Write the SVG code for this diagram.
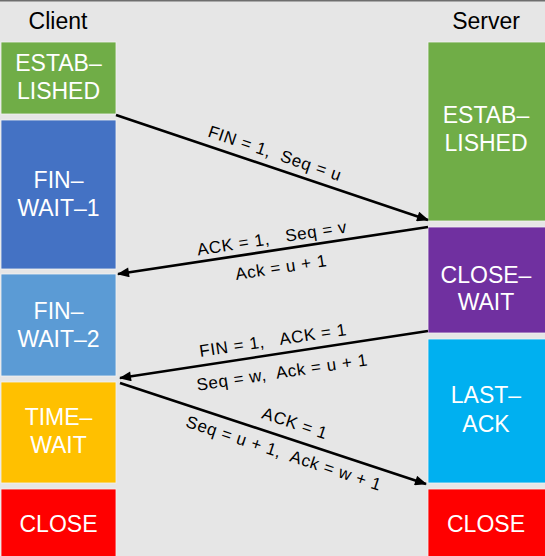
<svg xmlns="http://www.w3.org/2000/svg" width="545" height="556" viewBox="0 0 545 556">
<defs>
<style>
.t{font-family:"Liberation Sans","Noto Sans",Arial,sans-serif;}
.title{font-size:23px;fill:#000;text-anchor:middle;}
.st{font-size:23px;fill:#fff;text-anchor:middle;}
.lbl{font-size:17px;fill:#000;text-anchor:middle;white-space:pre;letter-spacing:0.6px;}
.box{stroke:#f2f2f2;stroke-width:0.8;}
.conn{stroke:#000;stroke-width:2.6;fill:none;marker-end:url(#ah);}
</style>
<marker id="ah" viewBox="0 0 12 10" refX="11" refY="5" markerWidth="13" markerHeight="10" markerUnits="userSpaceOnUse" orient="auto">
<path d="M0,0 L12,5 L0,10 Z" fill="#000"/>
</marker>
</defs>
<rect x="0" y="0" width="545" height="556" fill="#e6e6e6"/>
<rect x="0" y="0" width="545" height="1.5" fill="#6e6e6e"/>
<text class="t title" x="58" y="29">Client</text>
<text class="t title" x="486" y="29">Server</text>

<g id="c-established"><rect class="box" x="1" y="42" width="115" height="72" fill="#70ad47"/><text class="t st" x="58.5" y="71">ESTAB–</text><text class="t st" x="58.5" y="99">LISHED</text></g>
<g id="c-finwait1"><rect class="box" x="1" y="120" width="115" height="149" fill="#4472c4"/><text class="t st" x="58.5" y="188">FIN–</text><text class="t st" x="58.5" y="216">WAIT–1</text></g>
<g id="c-finwait2"><rect class="box" x="1" y="274" width="115" height="102" fill="#5b9bd5"/><text class="t st" x="58.5" y="319">FIN–</text><text class="t st" x="58.5" y="347">WAIT–2</text></g>
<g id="c-timewait"><rect class="box" x="1" y="382" width="115" height="101" fill="#ffc000"/><text class="t st" x="58.5" y="425">TIME–</text><text class="t st" x="58.5" y="453">WAIT</text></g>
<g id="c-close"><rect class="box" x="1" y="489" width="115" height="68" fill="#ff0000"/><text class="t st" x="58.5" y="532">CLOSE</text></g>

<g id="s-established"><rect class="box" x="428" y="42" width="118" height="179" fill="#70ad47"/><text class="t st" x="486" y="123">ESTAB–</text><text class="t st" x="486" y="151">LISHED</text></g>
<g id="s-closewait"><rect class="box" x="428" y="227" width="118" height="106" fill="#7030a0"/><text class="t st" x="486" y="283">CLOSE–</text><text class="t st" x="486" y="310">WAIT</text></g>
<g id="s-lastack"><rect class="box" x="428" y="339" width="118" height="144" fill="#00b0f0"/><text class="t st" x="486" y="403">LAST–</text><text class="t st" x="486" y="432">ACK</text></g>
<g id="s-close"><rect class="box" x="428" y="489" width="118" height="68" fill="#ff0000"/><text class="t st" x="486" y="532">CLOSE</text></g>

<g id="connectors">
<line class="conn" x1="116" y1="115" x2="428" y2="220"/>
<line class="conn" x1="428" y1="227" x2="118" y2="274"/>
<line class="conn" x1="428" y1="331" x2="120" y2="378"/>
<line class="conn" x1="120" y1="383" x2="426" y2="484"/>
</g>

<g id="labels">
<text class="t lbl" transform="translate(275,153) rotate(18.8)" y="6">FIN = 1,  Seq = u</text>
<text class="t lbl" transform="translate(272,238) rotate(-8.8)" y="6">ACK = 1,   Seq = v</text>
<text class="t lbl" transform="translate(281,267) rotate(-8.8)" y="6">Ack = u + 1</text>
<text class="t lbl" transform="translate(273,340) rotate(-8.5)" y="6">FIN = 1,   ACK = 1</text>
<text class="t lbl" transform="translate(282,372) rotate(-8.5)" y="6">Seq = w,  Ack = u + 1</text>
<text class="t lbl" transform="translate(295,423) rotate(18.3)" y="6">ACK = 1</text>
<text class="t lbl" transform="translate(284,453) rotate(18.3)" y="6">Seq = u + 1,  Ack = w + 1</text>
</g>
</svg>
